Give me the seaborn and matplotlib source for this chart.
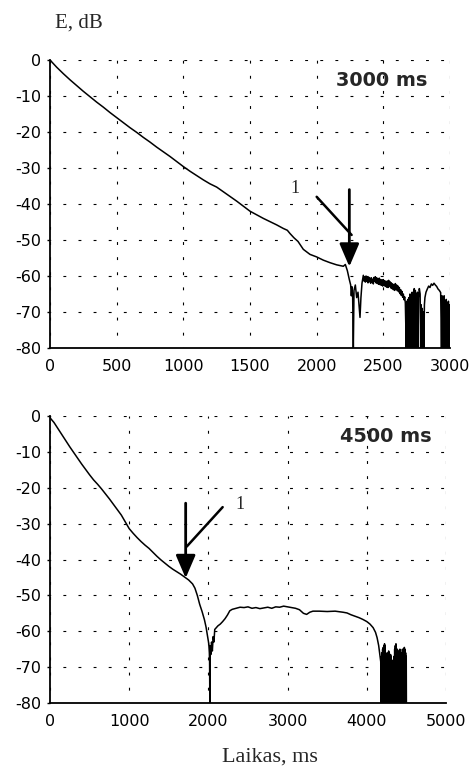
import matplotlib
matplotlib.use("Agg")
import matplotlib.pyplot as plt
import seaborn as sns
import pandas as pd

# ---------------- data ----------------
t_top = [0, 50, 100, 150, 200, 250, 300, 350, 400, 450, 500, 550, 600, 650, 700, 750,
         800, 850, 900, 950, 1000, 1050, 1100, 1150, 1200, 1250, 1300, 1350, 1400, 1450,
         1500, 1550, 1600, 1650, 1700, 1750, 1780, 1800, 1830, 1860, 1900, 1950, 2000,
         2050, 2100, 2150, 2200, 2215, 2230, 2245, 2255, 2260, 2265, 2270, 2275, 2280,
         2290, 2300, 2310, 2320, 2325, 2332, 2340,
         2350, 2355, 2360, 2365, 2370, 2375, 2380, 2385,
         2390, 2395, 2400, 2405, 2410, 2415, 2420, 2425,
         2430, 2435, 2440, 2445, 2450, 2455, 2460, 2465,
         2470, 2475, 2480, 2485, 2490, 2495, 2500, 2505,
         2510, 2515, 2520, 2525, 2530, 2535, 2540, 2545,
         2550, 2555, 2560, 2565, 2570, 2575, 2580, 2585,
         2590, 2595, 2600, 2605, 2610, 2615, 2620, 2625,
         2630, 2635, 2640, 2645, 2650, 2655, 2660, 2665,
         2672, 2676, 2680, 2684, 2688, 2692, 2696, 2700, 2704, 2708, 2712, 2716, 2720,
         2724, 2728, 2732, 2736, 2740, 2744, 2748, 2752, 2756, 2760, 2764, 2770, 2776,
         2780, 2784, 2788, 2792, 2796, 2800, 2804, 2808, 2812, 2820,
         2830, 2840, 2850, 2860, 2870, 2880, 2890, 2900, 2910, 2920, 2930,
         2936, 2940, 2944, 2948, 2952, 2956, 2960, 2964, 2968, 2972, 2976, 2980, 2984,
         2988, 2992, 2996, 3000]
db_top = [0, -2.0, -3.8, -5.5, -7.1, -8.7, -10.2, -11.7, -13.1, -14.6, -16.0, -17.4, -18.8,
          -20.1, -21.5, -22.8, -24.2, -25.5, -26.8, -28.2, -29.6, -30.9, -32.1, -33.3, -34.4,
          -35.3, -36.6, -37.9, -39.2, -40.6, -42.0, -43.0, -44.0, -44.9, -45.8, -46.8, -47.3,
          -48.2, -49.4, -50.4, -52.6, -54.0, -54.7, -55.6, -56.3, -56.9, -57.3, -56.8, -58.5,
          -61.0, -62.5, -65.5, -63.0, -66.0, -80, -64.0, -62.5, -66.0, -64.5, -69.0, -71.5,
          -66.0, -62.0,
          -59.8, -61.4, -60.2, -61.7, -60.0, -61.5, -60.4, -61.9,
          -60.3, -61.6, -60.6, -62.0, -60.5, -61.8, -60.9, -62.2,
          -60.4, -61.5, -60.2, -61.9, -60.5, -62.1, -60.7, -62.3,
          -60.6, -62.4, -61.0, -62.6, -61.1, -62.8, -61.0, -62.6,
          -61.3, -62.9, -61.5, -63.1, -61.4, -63.2, -61.2, -62.9,
          -61.6, -63.3, -61.9, -63.5, -62.2, -63.8, -62.4, -64.0,
          -62.1, -63.6, -62.5, -64.1, -62.8, -64.4, -63.2, -64.9,
          -63.8, -65.4, -64.3, -65.9, -65.0, -66.6, -65.8, -67.5,
          -80, -67, -80, -66.5, -80, -66, -80, -65, -80, -66, -80, -64.5, -80,
          -65, -80, -63.5, -80, -64, -80, -65, -80, -64.5, -80, -66, -63.5, -65,
          -80, -68, -80, -69, -80, -70, -80, -68, -66, -64.5,
          -63.6, -62.8, -63.2, -62.2, -62.6, -62.0, -62.5, -62.9, -63.6, -64.0, -64.6,
          -80, -65.5, -80, -66, -80, -65.5, -80, -67, -80, -66.5, -80, -67.5, -80,
          -67, -80, -68, -80]

t_bot = [0, 50, 100, 150, 200, 250, 300, 350, 400, 450, 500, 550, 600, 650, 700, 750, 800,
         850, 900, 950, 1000, 1050, 1100, 1150, 1200, 1250, 1300, 1350, 1400, 1450, 1500,
         1550, 1600, 1650, 1700, 1750, 1800, 1830, 1860, 1890, 1920, 1950, 1970, 1990, 2005,
         2012, 2015, 2018, 2022, 2030, 2040, 2050, 2060, 2070, 2080, 2100, 2120, 2150, 2180,
         2210, 2240, 2270, 2300, 2350, 2400, 2450, 2500, 2550, 2600, 2650, 2700, 2750, 2800,
         2850, 2900, 2950, 3000, 3050, 3100, 3150, 3200, 3240, 3280, 3320, 3400, 3500, 3600,
         3700, 3750, 3800, 3850, 3900, 3950, 4000, 4040, 4080, 4110, 4130, 4150, 4165, 4176,
         4180, 4184, 4188, 4192, 4196, 4200, 4204, 4208, 4212, 4216, 4220, 4224, 4228, 4232,
         4236, 4240, 4244, 4248, 4252, 4256, 4260, 4264, 4268, 4272, 4276, 4280, 4284, 4288,
         4292, 4296, 4300, 4304, 4308, 4312, 4316, 4320, 4324, 4328, 4332, 4338, 4344, 4348,
         4352, 4356, 4360, 4364, 4368, 4372, 4378, 4382, 4386, 4390, 4394, 4398, 4402, 4406,
         4410, 4414, 4418, 4422, 4426, 4430, 4434, 4438, 4442, 4446, 4450, 4454, 4458, 4462,
         4466, 4470, 4474, 4478, 4482, 4486, 4490, 4494, 4498, 4500]
db_bot = [-0.5, -1.8, -3.5, -5.2, -6.9, -8.6, -10.2, -11.8, -13.4, -14.9, -16.4, -17.8, -19.0,
          -20.3, -21.7, -23.1, -24.6, -26.1, -27.6, -29.5, -31.4, -32.7, -33.9, -35.0, -36.0,
          -36.9, -38.0, -39.1, -40.1, -41.0, -41.9, -42.7, -43.4, -44.1, -44.9, -45.7, -46.8,
          -48.0, -50.0, -52.5, -54.5, -56.8, -58.8, -61.5, -63.5, -66.0, -68.5, -80, -64,
          -66.5, -63.0, -65.5, -61.5, -63.0, -59.5, -59.0, -58.5, -58.0, -57.3, -56.5, -55.5,
          -54.3, -53.9, -53.6, -53.3, -53.4, -53.2, -53.6, -53.4, -53.7, -53.5, -53.3, -53.6,
          -53.2, -53.3, -53.0, -53.2, -53.4, -53.6, -54.0, -55.0, -55.3, -54.7, -54.4, -54.4,
          -54.5, -54.4, -54.7, -54.9, -55.4, -55.8, -56.2, -56.7, -57.3, -58.0, -59.0, -60.3,
          -61.8, -64.0, -66.5, -68.5,
          -80, -67, -80, -66, -80, -65, -80, -64.5, -80, -64, -80, -63.5, -80, -64,
          -80, -66, -80, -67, -68, -80, -67, -80, -66, -80, -65.5, -80, -66, -80,
          -67, -80, -66.5, -80, -67, -80, -68, -80, -69, -80, -70, -69, -67, -80,
          -65, -80, -64, -80, -63.5, -65, -66, -80, -65, -80, -66, -80, -65.5, -80,
          -66, -80, -65, -80, -66, -80, -67, -80, -66, -80, -65, -80, -66, -80,
          -65, -80, -64.5, -80, -65, -80, -66, -80, -67, -80]

y_ticks = [0, -10, -20, -30, -40, -50, -60, -70, -80]
x_ticks_top = [0, 500, 1000, 1500, 2000, 2500, 3000]
x_ticks_bot = [0, 1000, 2000, 3000, 4000, 5000]
panel_labels = ["3000 ms", "4500 ms"]
# annotation anchors: arrow top, arrow tip, pointer line ends, label position
ann_top = dict(shaft=(2245, -36), tip=(2245, -57.4), d0=(2000, -38), d1=(2262, -48.6), lab=(1837, -35.6))
ann_bot = dict(shaft=(1713, -24.3), tip=(1713, -45.2), d0=(2180, -25.4), d1=(1726, -36.4), lab=(2399, -24.8))

# ---------------- figure ----------------
sns.set_style("white")
plt.rcParams["font.family"] = ["DejaVu Sans"]

fig = plt.figure(figsize=(4.76, 7.69), dpi=100)
ax1 = fig.add_axes([50/476, 421/769, 400/476, 288/769])
ax2 = fig.add_axes([50/476, 66/769, 396/476, 287/769])

df_top = pd.DataFrame({"t": t_top, "db": db_top})
df_bot = pd.DataFrame({"t": t_bot, "db": db_bot})

grid_ls = (2, (2.6, 11.0))

for ax, df, xt, xmax, lbl, lbl_x, ann in [
        (ax1, df_top, x_ticks_top, 3000, panel_labels[0], 2828, ann_top),
        (ax2, df_bot, x_ticks_bot, 5000, panel_labels[1], 4823, ann_bot)]:
    sns.lineplot(data=df, x="t", y="db", ax=ax, color="black", lw=1.1,
                 estimator=None, sort=False, zorder=3)
    ax.set_xlim(0, xmax)
    ax.set_ylim(-80, 0)
    ax.set_xticks(xt)
    ax.set_yticks(y_ticks)
    ax.set_xticklabels([str(v) for v in xt])
    ax.set_yticklabels([str(v) for v in y_ticks])
    ax.set_xlabel("")
    ax.set_ylabel("")
    for s in ["top", "right"]:
        ax.spines[s].set_visible(False)
    for s in ["left", "bottom"]:
        ax.spines[s].set_color("black")
        ax.spines[s].set_linewidth(1.3)
    ax.grid(True, color="black", linestyle=grid_ls, linewidth=0.8)
    ax.set_axisbelow(True)
    ax.tick_params(axis="y", direction="out", length=2, width=1, pad=4.5,
                   labelsize=11.5, colors="black", left=True)
    ax.tick_params(axis="x", length=0, pad=8, labelsize=11.5, colors="black")
    ax.text(lbl_x, -5.6, lbl, ha="right", va="center", fontsize=13.9,
            fontweight="bold", family="DejaVu Sans")
    ax.annotate("", xy=ann["tip"], xytext=ann["shaft"],
                arrowprops=dict(arrowstyle="-|>,head_length=1.4,head_width=0.6",
                                mutation_scale=10, lw=2.0, color="black",
                                shrinkA=0, shrinkB=0), zorder=5)
    ax.annotate("", xy=ann["d1"], xytext=ann["d0"],
                arrowprops=dict(arrowstyle="-", lw=1.8, color="black",
                                shrinkA=0, shrinkB=0), zorder=5)
    ax.text(ann["lab"][0], ann["lab"][1], "1", ha="center", va="center",
            fontsize=13, family="Liberation Serif")

fig.text(55/476, 1 - 23/769, "E, dB", ha="left", va="center", fontsize=15,
         family="Liberation Serif")
fig.text(270/476, 1 - 757/769, "Laikas, ms", ha="center", va="center", fontsize=16,
         family="Liberation Serif")

fig.savefig("out.png", dpi=100)
